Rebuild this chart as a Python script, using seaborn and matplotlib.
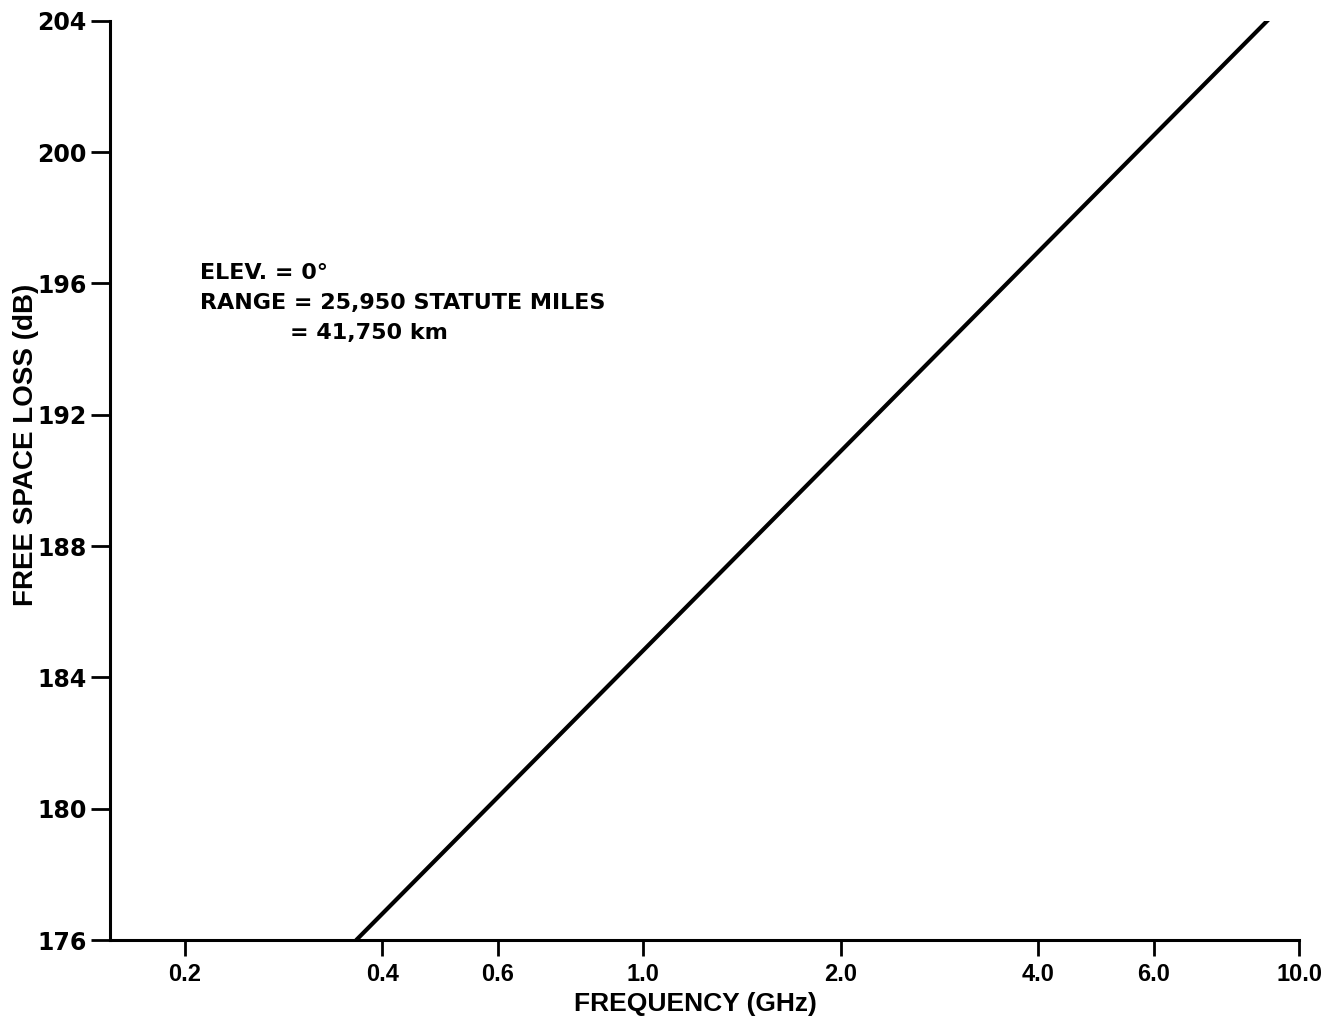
import matplotlib
matplotlib.use("Agg")
import matplotlib.pyplot as plt
import matplotlib.ticker as mticker
import seaborn as sns
import pandas as pd

# Data
frequency_ghz = [0.365, 9.05]
free_space_loss_db = [176.0, 204.1]

x_ticks = [0.2, 0.4, 0.6, 1.0, 2.0, 4.0, 6.0, 10.0]
x_tick_labels = ["0.2", "0.4", "0.6", "1.0", "2.0", "4.0", "6.0", "10.0"]
y_ticks = [176, 180, 184, 188, 192, 196, 200, 204]

annotation_lines = ["ELEV. = 0°", "RANGE = 25,950 STATUTE MILES", "= 41,750 km"]

sns.set_theme(style="ticks")
plt.rcParams['font.family'] = ['DejaVu Sans']
plt.rcParams['font.weight'] = 'bold'
plt.rcParams['text.color'] = 'black'
plt.rcParams['axes.labelcolor'] = 'black'

df = pd.DataFrame({"freq": frequency_ghz, "loss": free_space_loss_db})

W, H = 1324, 1021
left_px, right_px, top_px, bottom_px = 110, 1299, 20.7, 940
fig = plt.figure(figsize=(W / 100, H / 100), dpi=100)
ax = fig.add_axes([left_px / W, 1 - bottom_px / H,
                   (right_px - left_px) / W, (bottom_px - top_px) / H])

sns.lineplot(data=df, x="freq", y="loss", ax=ax, color="black", linewidth=3.0)

ax.set_xscale("log")
ax.set_xlim(0.1537, 10.0)
ax.set_ylim(176, 204)
ax.xaxis.set_minor_locator(mticker.NullLocator())
ax.set_xticks(x_ticks)
ax.set_xticklabels(x_tick_labels)
ax.set_yticks(y_ticks)
ax.set_yticklabels([str(v) for v in y_ticks])

for s in ["top", "right"]:
    ax.spines[s].set_visible(False)
for s in ["left", "bottom"]:
    ax.spines[s].set_linewidth(2.2)
    ax.spines[s].set_color("black")

ax.tick_params(axis="y", direction="out", length=14, width=2, pad=3,
               labelsize=17, colors="black", labelfontfamily="DejaVu Sans")
ax.tick_params(axis="x", direction="out", length=11.5, width=2, pad=5,
               labelsize=17, colors="black", labelfontfamily="Liberation Sans")

ax.set_xlabel("FREQUENCY (GHz)", fontsize=19, fontweight="bold",
              family="Liberation Sans", color="black")
ax.xaxis.set_label_coords((695 - left_px) / (right_px - left_px),
                          -(1004 - bottom_px) / (bottom_px - top_px))
ax.xaxis.label.set_va("center")
ax.set_ylabel("FREE SPACE LOSS (dB)", fontsize=20, fontweight="bold",
              family="Liberation Sans", color="black")
ax.yaxis.set_label_coords(-(left_px - 26) / (right_px - left_px),
                          (bottom_px - 445) / (bottom_px - top_px))
ax.yaxis.label.set_va("center")

fig.text(200 / W, 1 - 273 / H, annotation_lines[0], fontsize=16, fontweight="bold",
         va="center", ha="left", color="black")
fig.text(200 / W, 1 - 303 / H, annotation_lines[1], fontsize=16, fontweight="bold",
         va="center", ha="left", color="black")
fig.text(290 / W, 1 - 333 / H, annotation_lines[2], fontsize=16, fontweight="bold",
         va="center", ha="left", color="black")

fig.savefig("out.png", dpi=100, facecolor="white")
